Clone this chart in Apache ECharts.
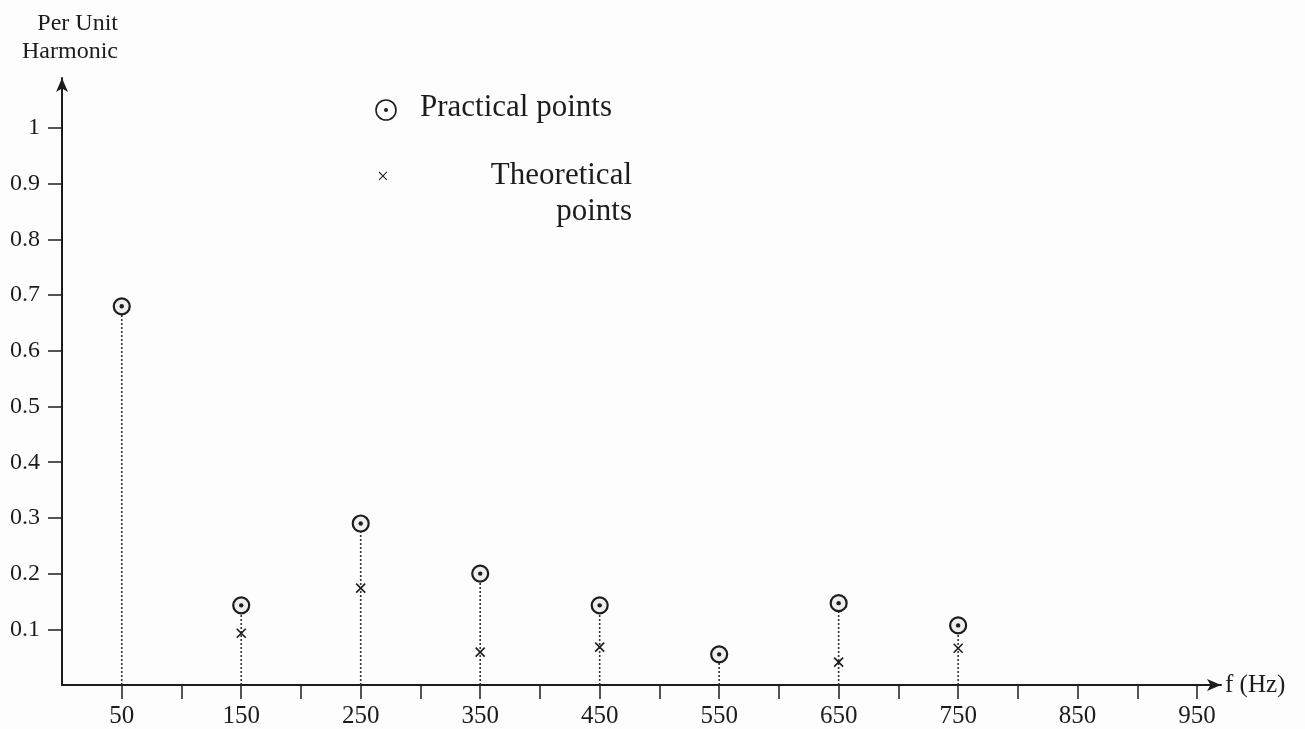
<!DOCTYPE html>
<html>
<head>
<meta charset="utf-8">
<script src="https://cdn.jsdelivr.net/npm/echarts@6/dist/echarts.min.js"></script>
<style>
html,body{margin:0;padding:0;background:#fdfdfd;}
#chart{width:1305px;height:729px;}
</style>
</head>
<body>
<div id="chart"></div>
<script>
// ---- data ----
const practicalFreqs = [50, 150, 250, 350, 450, 550, 650, 750];
const practicalValues = [0.68, 0.143, 0.29, 0.2, 0.143, 0.055, 0.147, 0.107];
const theoreticalFreqs = [150, 250, 350, 450, 650, 750];
const theoreticalValues = [0.093, 0.174, 0.059, 0.068, 0.041, 0.066];
const xTickValues = [50, 100, 150, 200, 250, 300, 350, 400, 450, 500, 550, 600, 650, 700, 750, 800, 850, 900, 950];
const xLabelValues = [50, 150, 250, 350, 450, 550, 650, 750, 850, 950];
const yTickValues = [0.1, 0.2, 0.3, 0.4, 0.5, 0.6, 0.7, 0.8, 0.9, 1];
const yLabelTexts = ['0.1', '0.2', '0.3', '0.4', '0.5', '0.6', '0.7', '0.8', '0.9', '1'];

const FONT = '"Liberation Serif", "DejaVu Serif", serif';
const INK = '#1c1c1c';

const chart = echarts.init(document.getElementById('chart'), null, {renderer: 'canvas'});

const option = {
  backgroundColor: '#fdfdfd',
  animation: false,
  grid: {left: 62, top: 78, width: 1159, height: 609, containLabel: false},
  xAxis: {
    type: 'value',
    min: 0,
    max: 970,
    name: 'f (Hz)',
    nameLocation: 'end',
    nameGap: 4,
    nameTextStyle: {fontFamily: FONT, fontSize: 25, color: INK},
    axisLine: {show: true, symbol: ['none', 'arrow'], symbolSize: [9, 14], lineStyle: {color: INK, width: 2}},
    axisTick: {show: true, inside: false, length: 14, customValues: xTickValues, lineStyle: {color: INK, width: 1.5}},
    axisLabel: {customValues: xLabelValues, fontFamily: FONT, fontSize: 25, color: INK, margin: 19},
    splitLine: {show: false}
  },
  yAxis: {
    type: 'value',
    min: 0,
    max: 1.09,
    axisLine: {show: true, symbol: ['none', 'arrow'], symbolSize: [9, 14], lineStyle: {color: INK, width: 2}},
    axisTick: {show: true, inside: false, length: 14, customValues: yTickValues, lineStyle: {color: INK, width: 1.5}},
    axisLabel: {
      customValues: yTickValues,
      fontFamily: FONT, fontSize: 24, color: INK, margin: 22,
      formatter: function (v) {
        const i = yTickValues.findIndex(t => Math.abs(t - v) < 1e-6);
        return i >= 0 ? yLabelTexts[i] : '';
      }
    },
    splitLine: {show: false}
  },
  graphic: [
    {type: 'text', x: 118, y: 10, style: {text: 'Per Unit\nHarmonic', fill: INK, font: '24px ' + FONT, align: 'right', lineHeight: 28}, z: 10},
    {type: 'circle', shape: {cx: 386, cy: 110, r: 10}, style: {fill: '#fff', stroke: INK, lineWidth: 1.6}, z: 10},
    {type: 'circle', shape: {cx: 386, cy: 110, r: 2}, style: {fill: INK}, z: 10},
    {type: 'text', x: 420, y: 92, style: {text: 'Practical points', fill: INK, font: '31px ' + FONT}, z: 10},
    {type: 'text', x: 377, y: 167, style: {text: '\u00d7', fill: INK, font: '21px ' + FONT}, z: 10},
    {type: 'text', x: 632, y: 158, style: {text: 'Theoretical\npoints', fill: INK, font: '31px ' + FONT, align: 'right', lineHeight: 36}, z: 10}
  ],
  series: [
    {
      name: 'Practical points',
      type: 'custom',
      data: practicalFreqs.map((f, i) => [f, practicalValues[i]]),
      renderItem: function (params, api) {
        const x = api.value(0), y = api.value(1);
        const p = api.coord([x, y]);
        const b = api.coord([x, 0]);
        return {
          type: 'group',
          children: [
            {type: 'line', shape: {x1: b[0], y1: b[1], x2: p[0], y2: p[1] + 8}, style: {stroke: '#333', lineWidth: 1.6, lineDash: [2, 2]}},
            {type: 'circle', shape: {cx: p[0], cy: p[1], r: 8}, style: {fill: '#eee', stroke: INK, lineWidth: 2.2}},
            {type: 'circle', shape: {cx: p[0], cy: p[1], r: 2.2}, style: {fill: INK}}
          ]
        };
      },
      z: 3
    },
    {
      name: 'Theoretical points',
      type: 'custom',
      data: theoreticalFreqs.map((f, i) => [f, theoreticalValues[i]]),
      renderItem: function (params, api) {
        const p = api.coord([api.value(0), api.value(1)]);
        const s = 4.5;
        return {
          type: 'group',
          children: [
            {type: 'line', shape: {x1: p[0] - s, y1: p[1] - s, x2: p[0] + s, y2: p[1] + s}, style: {stroke: INK, lineWidth: 1.6}},
            {type: 'line', shape: {x1: p[0] - s, y1: p[1] + s, x2: p[0] + s, y2: p[1] - s}, style: {stroke: INK, lineWidth: 1.6}}
          ]
        };
      },
      z: 4
    }
  ]
};
chart.setOption(option);
</script>
</body>
</html>
